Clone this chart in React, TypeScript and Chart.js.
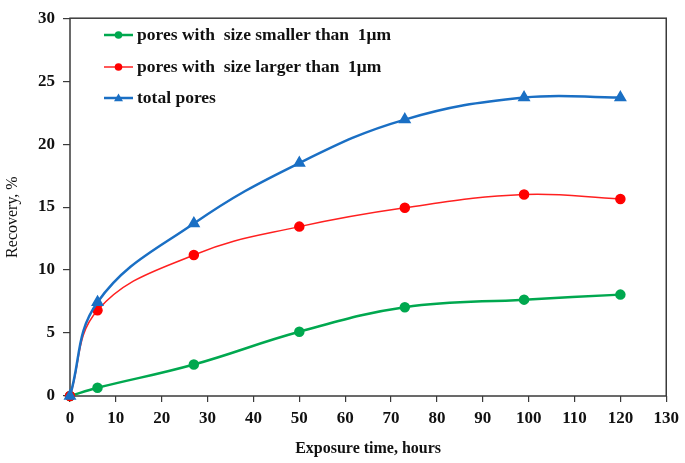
import React, { useEffect, useRef } from "react";
import { Chart, registerables } from "chart.js";

Chart.register(...registerables);

const hours = [0, 6, 27, 50, 73, 99, 120];
const smallerPores = [0, 0.65, 2.5, 5.1, 7.05, 7.65, 8.05];
const largerPores = [0, 6.8, 11.2, 13.45, 14.95, 16.0, 15.65];
const totalPores = [0, 7.45, 13.7, 18.5, 21.95, 23.7, 23.7];

const seriesLabels = [
  "pores with  size smaller than  1\u03bcm",
  "pores with  size larger than  1\u03bcm",
  "total pores",
];
const xTicks = [0, 10, 20, 30, 40, 50, 60, 70, 80, 90, 100, 110, 120, 130];
const yTicks = [0, 5, 10, 15, 20, 25, 30];
const xTitle = "Exposure time, hours";
const yTitle = "Recovery, %";

const FONT = "'Liberation Serif', 'Times New Roman', serif";
const FRAME = "#3a3a3a";

const toPoints = (ys: number[]) => ys.map((y, i) => ({ x: hours[i], y }));

const framePlugin = {
  id: "frame",
  beforeDatasetsDraw(chart: any) {
    const { ctx, chartArea } = chart;
    ctx.save();
    ctx.strokeStyle = FRAME;
    ctx.lineWidth = 1.5;
    ctx.strokeRect(chartArea.left, chartArea.top, chartArea.right - chartArea.left, chartArea.bottom - chartArea.top);
    ctx.restore();
  },
};

const legendPlugin = {
  id: "insideLegend",
  afterDraw(chart: any) {
    const { ctx } = chart;
    const rows = [35, 67, 98];
    chart.data.datasets.forEach((ds: any, i: number) => {
      const y = rows[i];
      ctx.save();
      ctx.strokeStyle = ds.borderColor;
      ctx.lineWidth = ds.borderWidth;
      ctx.beginPath();
      ctx.moveTo(104, y);
      ctx.lineTo(133, y);
      ctx.stroke();
      ctx.fillStyle = ds.pointBackgroundColor;
      ctx.beginPath();
      if (ds.pointStyle === "triangle") {
        const r = 4.5;
        ctx.moveTo(118.5, y - r);
        ctx.lineTo(118.5 + r, y + r * 0.7);
        ctx.lineTo(118.5 - r, y + r * 0.7);
        ctx.closePath();
      } else {
        ctx.arc(118.5, y, 3.8, 0, Math.PI * 2);
      }
      ctx.fill();
      ctx.fillStyle = "#111";
      ctx.font = `bold 17.5px ${FONT}`;
      ctx.textBaseline = "middle";
      ctx.textAlign = "left";
      ctx.fillText(ds.label, 137, y);
      ctx.restore();
    });
  },
};

export default function App() {
  const canvasRef = useRef<HTMLCanvasElement | null>(null);

  useEffect(() => {
    if (!canvasRef.current) return;
    const chart = new Chart(canvasRef.current, {
      type: "line",
      data: {
        datasets: [
          {
            label: seriesLabels[0],
            data: toPoints(smallerPores),
            borderColor: "#00a84f",
            backgroundColor: "#00a84f",
            pointBackgroundColor: "#00a84f",
            pointBorderColor: "#00a84f",
            borderWidth: 2.5,
            pointRadius: 4,
            pointStyle: "circle",
            tension: 0.4,
            clip: false,
            order: 2,
          },
          {
            label: seriesLabels[1],
            data: toPoints(largerPores),
            borderColor: "#ff2020",
            backgroundColor: "#ff0000",
            pointBackgroundColor: "#ff0000",
            pointBorderColor: "#ff0000",
            borderWidth: 1.5,
            pointRadius: 4.5,
            pointStyle: "circle",
            tension: 0.4,
            clip: false,
            order: 1,
          },
          {
            label: seriesLabels[2],
            data: toPoints(totalPores),
            borderColor: "#1a6fc4",
            backgroundColor: "#1a6fc4",
            pointBackgroundColor: "#1a6fc4",
            pointBorderColor: "#1a6fc4",
            borderWidth: 2.5,
            pointRadius: 5,
            pointStyle: "triangle",
            tension: 0.4,
            clip: false,
            order: 0,
          },
        ],
      },
      options: {
        responsive: false,
        animation: false,
        devicePixelRatio: 1,
        layout: { padding: { top: 12, right: 16, left: 0, bottom: 0 } },
        plugins: {
          legend: { display: false },
          tooltip: { enabled: false },
        },
        scales: {
          x: {
            type: "linear",
            min: 0,
            max: 130,
            afterFit: (s: any) => {
              s.height = 67;
            },
            afterBuildTicks: (s: any) => {
              s.ticks = xTicks.map((v) => ({ value: v }));
            },
            border: { display: false },
            grid: {
              display: true,
              drawOnChartArea: false,
              drawTicks: true,
              tickLength: 6,
              color: FRAME,
              lineWidth: 1.2,
            },
            ticks: {
              color: "#111",
              padding: 6,
              maxRotation: 0,
              autoSkip: false,
              font: { family: FONT, size: 17, weight: "bold" },
            },
            title: {
              display: true,
              text: xTitle,
              color: "#111",
              padding: { top: 0, bottom: 5 },
              font: { family: FONT, size: 16, weight: "bold" },
            },
          },
          y: {
            type: "linear",
            min: 0,
            max: 30,
            afterFit: (s: any) => {
              s.width = 70;
            },
            afterBuildTicks: (s: any) => {
              s.ticks = yTicks.map((v) => ({ value: v }));
            },
            border: { display: false },
            grid: {
              display: true,
              drawOnChartArea: false,
              drawTicks: true,
              tickLength: 7,
              color: FRAME,
              lineWidth: 1.2,
            },
            ticks: {
              color: "#111",
              padding: 8,
              autoSkip: false,
              font: { family: FONT, size: 17, weight: "bold" },
            },
            title: {
              display: true,
              text: yTitle + "     ",
              color: "#111",
              padding: { top: 3, bottom: 0 },
              font: { family: FONT, size: 16, weight: "normal" },
            },
          },
        },
      },
      plugins: [framePlugin, legendPlugin],
    } as any);
    return () => chart.destroy();
  }, []);

  return (
    <div style={{ position: "absolute", left: 0, top: 0, width: 685, height: 463, background: "#fff" }}>
      <canvas ref={canvasRef} width={685} height={463} />
    </div>
  );
}
